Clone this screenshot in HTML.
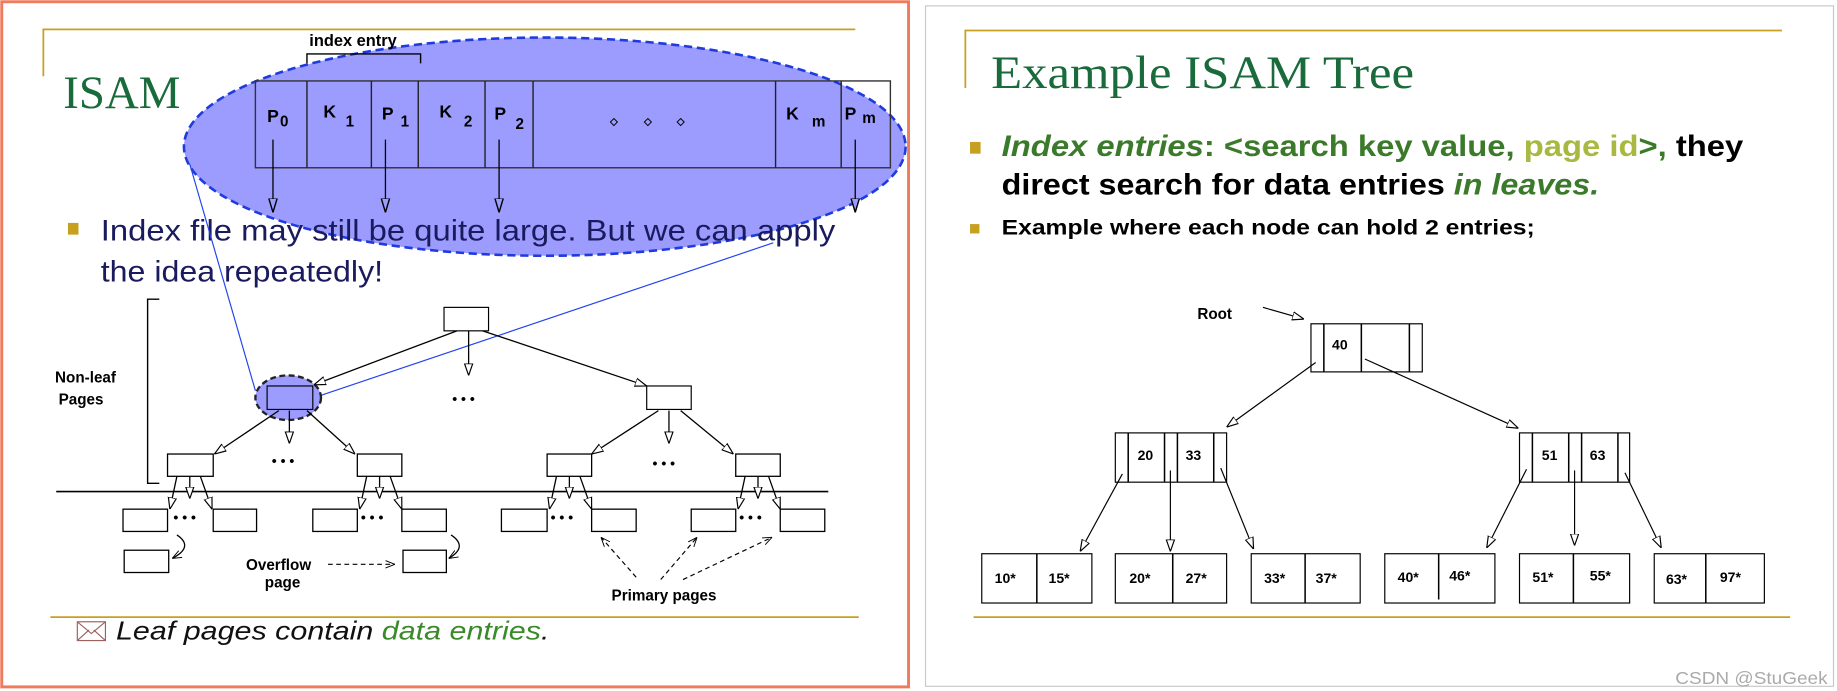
<!DOCTYPE html>
<html><head><meta charset="utf-8"><style>
html,body{margin:0;padding:0;background:#fff;}
svg{display:block;}
text{font-family:"Liberation Sans",sans-serif;}
</style></head><body>
<svg width="1837" height="691" viewBox="0 0 1568 589" preserveAspectRatio="none" xmlns="http://www.w3.org/2000/svg">
<defs>
<marker id="a" viewBox="0 0 10 10" refX="10" refY="5" markerWidth="10" markerHeight="10" markerUnits="userSpaceOnUse" orient="auto"><path d="M0,1.5 L10,5 L0,8.5 Z" fill="#fff" stroke="#000" stroke-width="1"/></marker>
<marker id="b" viewBox="0 0 10 10" refX="10" refY="5" markerWidth="12" markerHeight="12" markerUnits="userSpaceOnUse" orient="auto"><path d="M0,2 L10,5 L0,8 Z" fill="#9c9cff" stroke="#000" stroke-width="1"/></marker>
<marker id="c" viewBox="0 0 10 10" refX="10" refY="5" markerWidth="8" markerHeight="8" markerUnits="userSpaceOnUse" orient="auto"><path d="M0,1 L10,5 L0,9" fill="none" stroke="#000" stroke-width="1"/></marker>
</defs>
<rect width="1568" height="589" fill="#fff"/>
<!-- LEFT PANEL -->
<rect x="1.5" y="1.5" width="774" height="584" fill="#fff" stroke="#f07a5e" stroke-width="2.5"/>
<path d="M37,65 V25 H730" fill="none" stroke="#c8a020" stroke-width="1.5"/>
<text x="54" y="92" font-size="40" fill="#1a6b3c" style="font-family:'Liberation Serif',serif">ISAM</text>
<ellipse cx="465" cy="125" rx="308" ry="93" fill="#9c9cff" stroke="#1f3adf" stroke-width="2.2" stroke-dasharray="7,4"/>
<text x="264" y="39" font-size="14" font-weight="bold">index entry</text>
<path d="M262,54 V46 H359 V54" fill="none" stroke="#000" stroke-width="1.2"/>
<rect x="218" y="69" width="542" height="74" fill="none" stroke="#333" stroke-width="1.2"/>
<g stroke="#222" stroke-width="1.2">
<line x1="262" y1="69" x2="262" y2="143"/><line x1="317" y1="69" x2="317" y2="143"/>
<line x1="357" y1="69" x2="357" y2="143"/><line x1="414" y1="69" x2="414" y2="143"/>
<line x1="455" y1="69" x2="455" y2="143"/><line x1="662" y1="69" x2="662" y2="143"/>
<line x1="718" y1="69" x2="718" y2="143"/>
</g>
<g font-size="15" font-weight="bold">
<text x="228" y="104">P</text><text x="239" y="108" font-size="13">0</text>
<text x="276" y="100">K</text><text x="295" y="108" font-size="13">1</text>
<text x="326" y="102">P</text><text x="342" y="108" font-size="13">1</text>
<text x="375" y="100">K</text><text x="396" y="108" font-size="13">2</text>
<text x="422" y="102">P</text><text x="440" y="110" font-size="13">2</text>
<text x="671" y="102">K</text><text x="693" y="108" font-size="13">m</text>
<text x="721" y="102">P</text><text x="736" y="105" font-size="13">m</text>
</g>
<g fill="none" stroke="#000" stroke-width="0.8">
<path d="M524,101 l3,3 l-3,3 l-3,-3z"/><path d="M553,101 l3,3 l-3,3 l-3,-3z"/><path d="M581,101 l3,3 l-3,3 l-3,-3z"/>
</g>
<g stroke="#000" stroke-width="1.1" marker-end="url(#b)">
<line x1="233" y1="119" x2="233" y2="181"/><line x1="329" y1="119" x2="329" y2="181"/>
<line x1="426" y1="119" x2="426" y2="181"/><line x1="730" y1="119" x2="730" y2="181"/>
</g>
<rect x="58" y="190" width="9" height="10" fill="#c8a020"/>
<text x="86" y="205" font-size="25" fill="#1a1a5e" textLength="627" lengthAdjust="spacingAndGlyphs">Index file may still be quite large.  But we can apply</text>
<text x="86" y="240" font-size="25" fill="#1a1a5e" textLength="241" lengthAdjust="spacingAndGlyphs">the idea repeatedly!</text>
<!-- tree -->
<path d="M136,255 H126 V412 H136" fill="none" stroke="#000" stroke-width="1.2"/>
<text x="47" y="326" font-size="13" font-weight="bold">Non-leaf</text>
<text x="50" y="345" font-size="13" font-weight="bold">Pages</text>
<line x1="162" y1="140" x2="218" y2="333" stroke="#2244ee" stroke-width="1"/>
<line x1="268" y1="339" x2="660" y2="207" stroke="#2244ee" stroke-width="1"/>
<rect x="379" y="262" width="38" height="20" fill="#fff" stroke="#000"/>
<ellipse cx="246" cy="339" rx="28" ry="19" fill="#9c9cff" stroke="#222" stroke-width="2" stroke-dasharray="5,3"/>
<rect x="228" y="329" width="39" height="20" fill="#9c9cff" stroke="#000"/>
<rect x="552" y="329" width="38" height="20" fill="#fff" stroke="#000"/>
<g stroke="#000" stroke-width="1.1" marker-end="url(#a)">
<line x1="390" y1="282" x2="268" y2="328"/><line x1="400" y1="282" x2="400" y2="320"/>
<line x1="412" y1="282" x2="552" y2="329"/>
<line x1="238" y1="350" x2="183" y2="387"/><line x1="247" y1="350" x2="247" y2="378"/><line x1="262" y1="350" x2="303" y2="387"/>
<line x1="562" y1="350" x2="505" y2="387"/><line x1="571" y1="350" x2="571" y2="378"/><line x1="581" y1="350" x2="626" y2="387"/>
</g>
<g font-size="12" font-weight="bold"><text x="386" y="344">• • •</text><text x="232" y="397">• • •</text><text x="557" y="399">• • •</text>
<text x="148" y="445">• • •</text><text x="308" y="445">• • •</text><text x="470" y="445">• • •</text><text x="631" y="445">• • •</text></g>
<g fill="#fff" stroke="#000" stroke-width="1.1">
<rect x="143" y="387" width="39" height="19"/><rect x="305" y="387" width="38" height="19"/>
<rect x="467" y="387" width="38" height="19"/><rect x="628" y="387" width="38" height="19"/>
</g>
<line x1="48" y1="419" x2="707" y2="419" stroke="#000" stroke-width="1.3"/>
<g stroke="#000" stroke-width="1.1" marker-end="url(#a)">
<line x1="151" y1="406" x2="145" y2="434"/><line x1="162" y1="406" x2="162" y2="425"/><line x1="171" y1="406" x2="181" y2="434"/>
<line x1="313" y1="406" x2="307" y2="434"/><line x1="324" y1="406" x2="324" y2="425"/><line x1="333" y1="406" x2="343" y2="434"/>
<line x1="475" y1="406" x2="469" y2="434"/><line x1="486" y1="406" x2="486" y2="425"/><line x1="495" y1="406" x2="505" y2="434"/>
<line x1="636" y1="406" x2="630" y2="434"/><line x1="647" y1="406" x2="647" y2="425"/><line x1="656" y1="406" x2="666" y2="434"/>
</g>
<g fill="#fff" stroke="#000" stroke-width="1.1">
<rect x="105" y="434" width="38" height="19"/><rect x="182" y="434" width="37" height="19"/>
<rect x="267" y="434" width="38" height="19"/><rect x="343" y="434" width="38" height="19"/>
<rect x="428" y="434" width="39" height="19"/><rect x="505" y="434" width="38" height="19"/>
<rect x="590" y="434" width="38" height="19"/><rect x="666" y="434" width="38" height="19"/>
<rect x="106" y="469" width="38" height="19"/><rect x="344" y="469" width="37" height="19"/>
</g>
<g stroke="#000" stroke-width="1.1" fill="none" marker-end="url(#c)">
<path d="M151,456 Q166,466 147,476"/><path d="M385,456 Q400,466 383,476"/>
</g>
<text x="210" y="486" font-size="13" font-weight="bold">Overflow</text>
<text x="226" y="501" font-size="13" font-weight="bold">page</text>
<text x="522" y="512" font-size="13" font-weight="bold">Primary pages</text>
<g stroke="#000" stroke-width="1" stroke-dasharray="4,3" marker-end="url(#c)">
<line x1="280" y1="481" x2="337" y2="481"/>
<line x1="543" y1="492" x2="513" y2="458"/><line x1="564" y1="494" x2="595" y2="458"/><line x1="583" y1="494" x2="659" y2="458"/>
</g>
<line x1="43" y1="526" x2="733" y2="526" stroke="#c8a020" stroke-width="1.5"/>
<rect x="66" y="530" width="24" height="16" fill="#fff" stroke="#a06060" stroke-width="1"/>
<path d="M66,530 L78,540 L90,530 M66,546 L76,537 M90,546 L80,537" fill="none" stroke="#a06060" stroke-width="1"/>
<text x="99" y="545" font-size="22" font-style="italic" fill="#111" textLength="370" lengthAdjust="spacingAndGlyphs">Leaf pages contain <tspan fill="#3a8a2a">data entries</tspan>.</text>
<!-- RIGHT PANEL -->
<rect x="790" y="5" width="775" height="580" fill="#fff" stroke="#c8c8c8" stroke-width="1"/>
<path d="M824,75 V26 H1521" fill="none" stroke="#c8a020" stroke-width="1.5"/>
<text x="846" y="75" font-size="40" fill="#1a6b3c" style="font-family:'Liberation Serif',serif" textLength="361" lengthAdjust="spacingAndGlyphs">Example ISAM Tree</text>
<rect x="828" y="121" width="9" height="10" fill="#c8a020"/>
<text x="855" y="133" font-size="25" font-weight="bold" fill="#3a7a2a" textLength="633" lengthAdjust="spacingAndGlyphs"><tspan font-style="italic">Index entries</tspan>: &lt;search key value, <tspan fill="#a8b840">page id</tspan>&gt;,  <tspan fill="#000">they</tspan></text>
<text x="855" y="166" font-size="25" font-weight="bold" fill="#000" textLength="510" lengthAdjust="spacingAndGlyphs">direct search for data entries <tspan fill="#3a7a2a" font-style="italic">in leaves.</tspan></text>
<rect x="828" y="191" width="8" height="8" fill="#c8a020"/>
<text x="855" y="200" font-size="18" font-weight="bold" fill="#000" textLength="455" lengthAdjust="spacingAndGlyphs">Example where each node can hold 2 entries;</text>
<text x="1022" y="272" font-size="13" font-weight="bold">Root</text>
<g fill="#fff" stroke="#000" stroke-width="1">
<rect x="1119" y="276" width="95" height="41"/>
<rect x="952" y="369" width="95" height="42"/><rect x="1297" y="369" width="94" height="42"/>
<rect x="838" y="472" width="94" height="42"/><rect x="952" y="472" width="95" height="42"/>
<rect x="1068" y="472" width="93" height="42"/><rect x="1182" y="472" width="94" height="42"/>
<rect x="1297" y="472" width="94" height="42"/><rect x="1412" y="472" width="94" height="42"/>
</g>
<g stroke="#000" stroke-width="1.3">
<line x1="1130" y1="276" x2="1130" y2="317"/><line x1="1162" y1="276" x2="1162" y2="317"/><line x1="1203" y1="276" x2="1203" y2="317"/>
<line x1="963" y1="369" x2="963" y2="411"/><line x1="994" y1="369" x2="994" y2="411"/><line x1="1005" y1="369" x2="1005" y2="411"/><line x1="1036" y1="369" x2="1036" y2="411"/>
<line x1="1308" y1="369" x2="1308" y2="411"/><line x1="1339" y1="369" x2="1339" y2="411"/><line x1="1350" y1="369" x2="1350" y2="411"/><line x1="1381" y1="369" x2="1381" y2="411"/>
<line x1="885" y1="472" x2="885" y2="514"/><line x1="1001" y1="472" x2="1001" y2="514"/><line x1="1114" y1="472" x2="1114" y2="514"/>
<line x1="1228" y1="472" x2="1228" y2="511"/><line x1="1343" y1="472" x2="1343" y2="514"/><line x1="1456" y1="472" x2="1456" y2="514"/>
</g>
<g font-size="12" font-weight="bold">
<text x="1137" y="298">40</text>
<text x="971" y="392">20</text><text x="1012" y="392">33</text>
<text x="1316" y="392">51</text><text x="1357" y="392">63</text>
<text x="849" y="497">10*</text><text x="895" y="497">15*</text>
<text x="964" y="497">20*</text><text x="1012" y="497">27*</text>
<text x="1079" y="497">33*</text><text x="1123" y="497">37*</text>
<text x="1193" y="496">40*</text><text x="1237" y="495">46*</text>
<text x="1308" y="496">51*</text><text x="1357" y="495">55*</text>
<text x="1422" y="498">63*</text><text x="1468" y="496">97*</text>
</g>
<g stroke="#000" stroke-width="1" marker-end="url(#a)">
<line x1="1078" y1="262" x2="1113" y2="272"/>
<line x1="1123" y1="309" x2="1047" y2="364"/><line x1="1165" y1="306" x2="1296" y2="365"/>
<line x1="958" y1="404" x2="922" y2="470"/><line x1="999" y1="401" x2="999" y2="470"/><line x1="1042" y1="399" x2="1070" y2="468"/>
<line x1="1303" y1="400" x2="1269" y2="467"/><line x1="1344" y1="401" x2="1344" y2="465"/><line x1="1387" y1="403" x2="1418" y2="467"/>
</g>
<line x1="831" y1="526" x2="1528" y2="526" stroke="#c8a020" stroke-width="1.5"/>
<text x="1430" y="583" font-size="15" fill="#aaa" textLength="130" lengthAdjust="spacingAndGlyphs">CSDN @StuGeek</text>
</svg>
</body></html>
